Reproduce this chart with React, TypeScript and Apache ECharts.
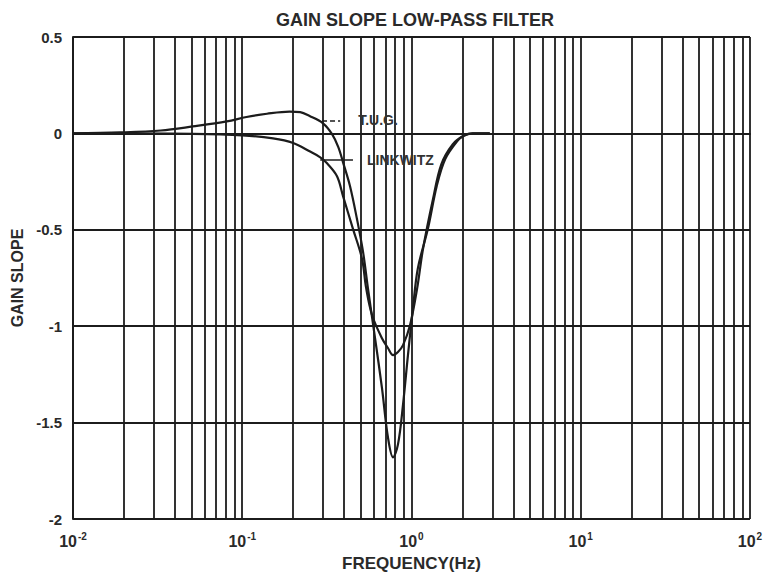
import React, { useEffect, useRef } from "react";
import * as echarts from "echarts";

const TITLE = "GAIN SLOPE LOW-PASS FILTER";
const X_NAME = "FREQUENCY(Hz)";
const Y_NAME = "GAIN SLOPE";

// [frequency Hz, gain slope]
const TUG: [number, number][] = [
  [0.01, 0], [0.019, 0.005], [0.033, 0.015], [0.051, 0.036], [0.081, 0.062],
  [0.106, 0.085], [0.14, 0.102], [0.19, 0.113], [0.22, 0.11], [0.25, 0.09],
  [0.3, 0.052], [0.34, -0.005], [0.37, -0.072], [0.394, -0.15], [0.433, -0.273],
  [0.476, -0.443], [0.517, -0.613], [0.553, -0.804], [0.609, -1.062], [0.669, -1.32],
  [0.726, -1.577], [0.778, -1.68], [0.832, -1.613], [0.891, -1.407], [0.953, -1.15],
  [1.02, -0.907], [1.09, -0.7], [1.25, -0.495], [1.41, -0.273], [1.58, -0.134],
  [1.86, -0.041], [2.05, -0.01], [2.3, 0], [2.9, 0],
];

const LINKWITZ: [number, number][] = [
  [0.01, 0], [0.019, 0], [0.051, -0.002], [0.1, -0.01], [0.152, -0.026],
  [0.2, -0.05], [0.25, -0.093], [0.289, -0.124], [0.317, -0.155], [0.363, -0.222],
  [0.394, -0.325], [0.451, -0.495], [0.51, -0.65], [0.54, -0.804], [0.585, -0.943],
  [0.669, -1.062], [0.726, -1.113], [0.778, -1.15], [0.832, -1.134], [0.891, -1.098],
  [0.98, -0.995], [1.08, -0.804], [1.17, -0.598], [1.34, -0.34], [1.5, -0.16],
  [1.75, -0.057], [2.01, -0.015], [2.3, 0], [2.9, 0],
];

// minor vertical grid lines (2..9 in each decade)
const MINOR_GRID = [
  0.02, 0.03, 0.04, 0.05, 0.06, 0.07, 0.08, 0.09,
  0.2, 0.3, 0.4, 0.5, 0.6, 0.7, 0.8, 0.9,
  2, 3, 4, 5, 6, 7, 8, 9,
  20, 30, 40, 50, 60, 70, 80, 90,
];

const X_TICK_EXP: Record<string, string> = {
  "0.01": "-2", "0.1": "-1", "1": "0", "10": "1", "100": "2",
};

// label leaders: [x1, x2, y]
const TUG_LEADER: [number, number, number] = [0.296, 0.379, 0.067];
const LINK_LEADER: [number, number, number] = [0.289, 0.451, -0.139];

const FONT = "'Liberation Sans', Arial, sans-serif";
const INK = "#1c1c1c";

export default function App() {
  const ref = useRef<HTMLDivElement>(null);
  useEffect(() => {
    if (!ref.current) return;
    const chart = echarts.init(ref.current, null, { renderer: "svg" });
    chart.setOption({
      animation: false,
      backgroundColor: "#fff",
      title: {
        text: TITLE,
        left: 410,
        textAlign: "center",
        top: 6,
        textStyle: { fontFamily: FONT, fontSize: 18, fontWeight: "bold", color: "#2a2a2a" },
      },
      grid: { left: 73, right: 16, top: 37, bottom: 56 },
      xAxis: {
        type: "log",
        logBase: 10,
        min: 0.01,
        max: 100,
        name: X_NAME,
        nameLocation: "middle",
        nameGap: 36,
        nameTextStyle: { fontFamily: FONT, fontSize: 17, fontWeight: "bold", color: "#2a2a2a" },
        axisLine: { show: true, lineStyle: { color: INK, width: 2 } },
        axisTick: { show: false },
        splitLine: { show: true, lineStyle: { color: INK, width: 1.8 } },
        axisLabel: {
          margin: 12,
          formatter: (v: number) => {
            const key = String(+v.toPrecision(6));
            const e = X_TICK_EXP[key] ?? "";
            return `{b|10}{s|${e}}`;
          },
          rich: {
            b: { fontFamily: FONT, fontSize: 16, fontWeight: "bold", color: "#2a2a2a" },
            s: { fontFamily: FONT, fontSize: 10, fontWeight: "bold", color: "#2a2a2a", padding: [0, 0, 11, 1] },
          },
        },
      },
      yAxis: {
        type: "value",
        min: -2,
        max: 0.5,
        interval: 0.5,
        name: Y_NAME,
        nameLocation: "middle",
        nameGap: 46,
        nameTextStyle: { fontFamily: FONT, fontSize: 16, fontWeight: "bold", color: "#2a2a2a" },
        axisLine: { show: true, lineStyle: { color: INK, width: 2 } },
        axisTick: { show: false },
        splitLine: { show: true, lineStyle: { color: INK, width: 1.8 } },
        axisLabel: {
          margin: 11,
          fontFamily: FONT,
          fontSize: 15,
          fontWeight: "bold",
          color: "#2a2a2a",
          formatter: (v: number) => String(v),
        },
      },
      series: [
        {
          name: "grid",
          type: "line",
          data: [],
          silent: true,
          markLine: {
            silent: true,
            symbol: "none",
            label: { show: false },
            lineStyle: { color: INK, width: 1.8, type: "solid" },
            data: MINOR_GRID.map((x) => ({ xAxis: x })),
          },
        },
        {
          name: "T.U.G.",
          type: "line",
          data: TUG,
          smooth: 0.35,
          showSymbol: false,
          lineStyle: { color: INK, width: 2.2 },
          z: 5,
          markLine: {
            silent: true,
            symbol: "none",
            lineStyle: { color: INK, width: 1.5, type: [5, 3] },
            label: {
              show: true,
              position: "end",
              distance: 18,
              formatter: "T.U.G.",
              fontFamily: FONT,
              fontSize: 14,
              fontWeight: "bold",
              color: "#333",
            },
            data: [[{ coord: [TUG_LEADER[0], TUG_LEADER[2]] }, { coord: [TUG_LEADER[1], TUG_LEADER[2]] }]],
          },
        },
        {
          name: "LINKWITZ",
          type: "line",
          data: LINKWITZ,
          smooth: 0.35,
          showSymbol: false,
          lineStyle: { color: INK, width: 2.2 },
          z: 5,
          markLine: {
            silent: true,
            symbol: "none",
            lineStyle: { color: INK, width: 1.5, type: "solid" },
            label: {
              show: true,
              position: "end",
              distance: 14,
              formatter: "LINKWITZ",
              fontFamily: FONT,
              fontSize: 14,
              fontWeight: "bold",
              color: "#333",
            },
            data: [[{ coord: [LINK_LEADER[0], LINK_LEADER[2]] }, { coord: [LINK_LEADER[1], LINK_LEADER[2]] }]],
          },
        },
      ],
    });
    return () => chart.dispose();
  }, []);
  return <div ref={ref} style={{ width: 766, height: 577, position: "absolute", left: 0, top: 0 }} />;
}
